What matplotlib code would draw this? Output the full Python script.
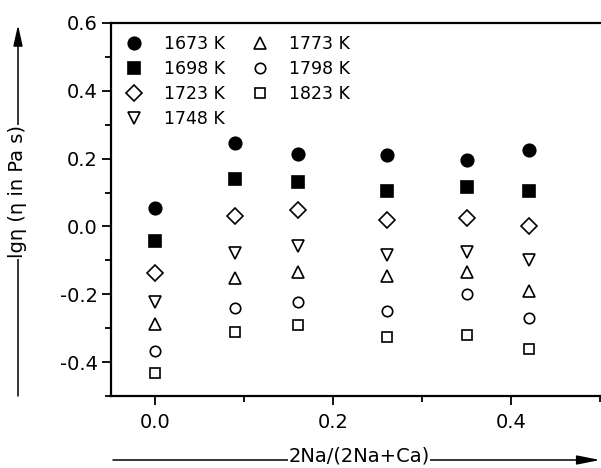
import matplotlib.pyplot as plt
from matplotlib.ticker import MultipleLocator

plt.rcParams['font.family'] = ['DejaVu Sans']

# composition 2Na/(2Na+Ca)
x = [0.0, 0.09, 0.16, 0.26, 0.35, 0.42]

temps = ['1673 K', '1698 K', '1723 K', '1748 K', '1773 K', '1798 K', '1823 K']

# lg(viscosity) per temperature
lg_1673 = [0.055, 0.245, 0.215, 0.21, 0.195, 0.224]
lg_1698 = [-0.044, 0.139, 0.13, 0.106, 0.115, 0.106]
lg_1723 = [-0.136, 0.03, 0.05, 0.018, 0.024, 0.0]
lg_1748 = [-0.224, -0.077, -0.059, -0.083, -0.074, -0.1]
lg_1773 = [-0.289, -0.153, -0.133, -0.147, -0.133, -0.189]
lg_1798 = [-0.366, -0.239, -0.224, -0.248, -0.2, -0.271]
lg_1823 = [-0.431, -0.31, -0.292, -0.327, -0.319, -0.36]

series = [lg_1673, lg_1698, lg_1723, lg_1748, lg_1773, lg_1798, lg_1823]
markers = ['o', 's', 'D', 'v', '^', 'o', 's']
filled = [True, True, False, False, False, False, False]
sizes = [9, 8, 8.3, 8.8, 8.8, 7.5, 7.5]

fig = plt.figure(figsize=(6.01, 4.68), dpi=100)
ax = fig.add_axes([0.1847, 0.1538, 0.8135, 0.7971])

for ys, lab, m, f, s in zip(series, temps, markers, filled, sizes):
    ax.plot(x, ys, linestyle='none', marker=m, markersize=s,
            markerfacecolor='black' if f else 'white',
            markeredgecolor='black', markeredgewidth=1.2, label=lab)

ax.set_xlim(-0.05, 0.5)
ax.set_ylim(-0.5, 0.6)
ax.xaxis.set_major_locator(MultipleLocator(0.2))
ax.xaxis.set_minor_locator(MultipleLocator(0.1))
ax.yaxis.set_major_locator(MultipleLocator(0.2))
ax.yaxis.set_minor_locator(MultipleLocator(0.1))
ax.xaxis.set_major_formatter(plt.FormatStrFormatter('%.1f'))
ax.yaxis.set_major_formatter(plt.FormatStrFormatter('%.1f'))
ax.tick_params(which='major', direction='out', length=6.5, width=1.3, labelsize=14)
ax.tick_params(which='minor', direction='out', length=4, width=1.3)
ax.tick_params(axis='x', which='major', pad=6)
ax.tick_params(axis='y', which='major', pad=3)
ax.tick_params(top=False, right=False)
for sp in ['left', 'bottom', 'top']:
    ax.spines[sp].set_linewidth(1.6)
ax.spines['right'].set_visible(False)

ax.legend(ncol=2, loc='upper left', bbox_to_anchor=(0.005, 1.0), frameon=False,
          fontsize=12.5, handlelength=1.0, handletextpad=1.2, labelspacing=0.4,
          columnspacing=1.5, borderaxespad=0.3)

# arrowed axis titles
ax.annotate('', xy=(18 / 601, 1 - 25 / 468), xytext=(18 / 601, 1 - 396 / 468),
            xycoords='figure fraction', textcoords='figure fraction',
            arrowprops=dict(arrowstyle='-|>,head_length=0.9,head_width=0.2',
                            color='black', lw=1.1,
                            mutation_scale=14, shrinkA=0, shrinkB=0))
fig.text(18 / 601, 1 - 192 / 468, 'lgη (η in Pa s)', rotation=90, fontsize=14,
         ha='center', va='center',
         bbox=dict(facecolor='white', edgecolor='none', pad=0.3))

ax.annotate('', xy=(600 / 601, 1 - 460 / 468), xytext=(113 / 601, 1 - 460 / 468),
            xycoords='figure fraction', textcoords='figure fraction',
            arrowprops=dict(arrowstyle='-|>,head_length=1.0,head_width=0.2',
                            color='black', lw=1.1,
                            mutation_scale=14, shrinkA=0, shrinkB=0))
fig.text(359 / 601, 1 - 462 / 468, '2Na/(2Na+Ca)', fontsize=14,
         ha='center', va='baseline',
         bbox=dict(facecolor='white', edgecolor='none', pad=0.1))

fig.savefig('out.png', dpi=100)
